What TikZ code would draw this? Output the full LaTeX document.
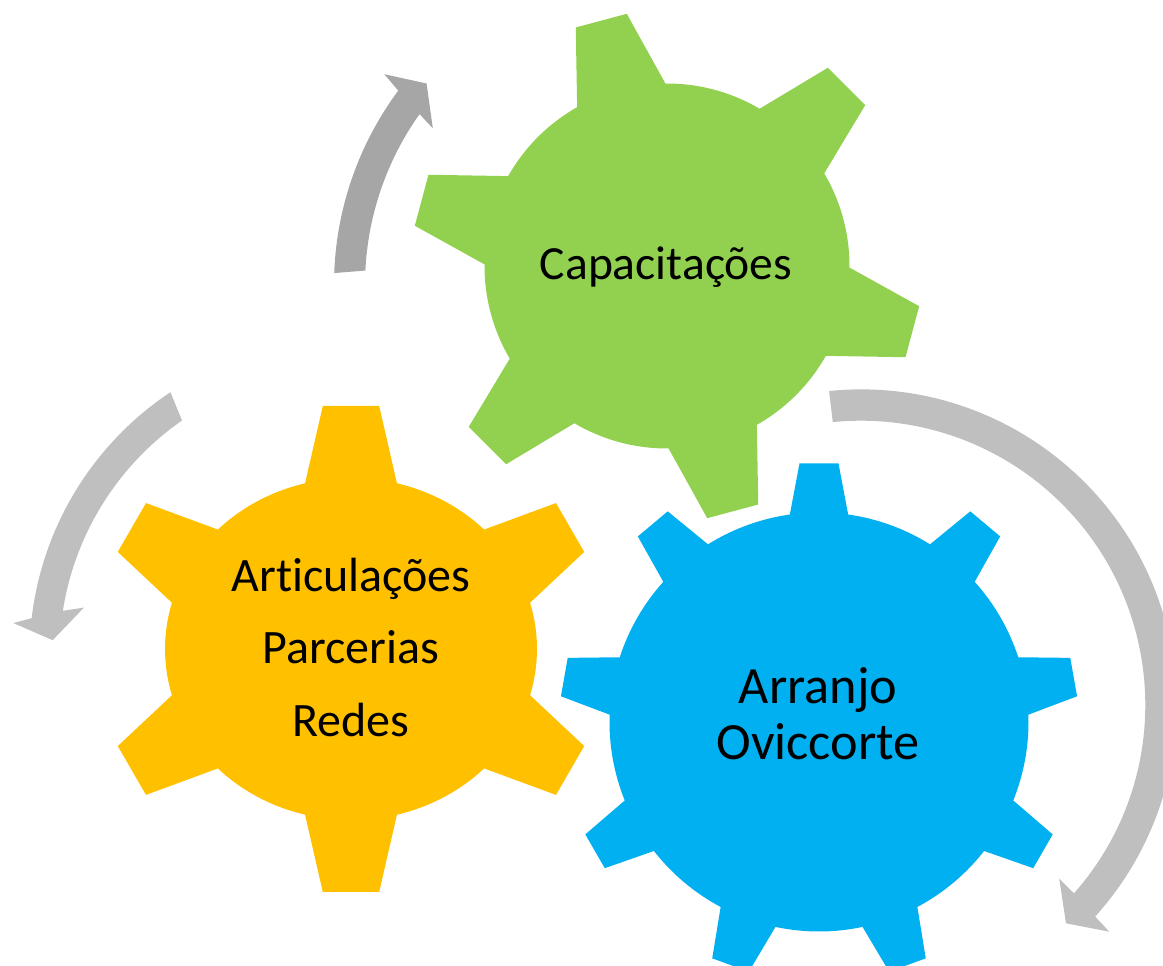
\documentclass[tikz,border=0pt]{standalone}
\usepackage{fontspec}
\setmainfont{Carlito}[Ligatures={NoCommon}]
\usetikzlibrary{calc}
\definecolor{gGreen}{HTML}{92D050}
\definecolor{gOrange}{HTML}{FFC000}
\definecolor{gBlue}{HTML}{00B0F0}
\definecolor{arrDark}{HTML}{A6A6A6}
\definecolor{arrLight}{HTML}{BFBFBF}
% #1 first tooth angle, #2 teeth, #3/#4 body radii, #5/#6 tip radii, #7 tip half width, #8 half angle at base
\newcommand\gearpath[8]{%
  ({#1+#8}:#3 and #4)
  \foreach \i [evaluate=\i as \a using #1-360/#2*(\i-1),
               evaluate=\i as \b using #1-360/#2*(\i-1)-#8,
               evaluate=\i as \c using #1-360/#2*\i+#8] in {1,...,#2}{
    -- ($(\a:#5 and #6)+({\a+90}:#7)$)
    -- ($(\a:#5 and #6)+({\a-90}:#7)$)
    -- (\b:#3 and #4)
    arc[start angle=\b, end angle=\c, x radius=#3, y radius=#4]
  } -- cycle}
\tikzset{
  geartext/.style={anchor=base, inner sep=0pt, text=black},
}
\begin{document}
\begin{tikzpicture}[x=1pt,y=1pt]
\useasboundingbox (0,0) rectangle (1163,966);
\clip (0,0) rectangle (1163,966);
% gears
\begin{scope}[shift={(667,700)}]
  \fill[gGreen] \gearpath{105}{6}{182.5}{182.5}{254}{254}{26.4}{14.5};
\end{scope}
\begin{scope}[shift={(351,317)}]
  \fill[gOrange] \gearpath{90}{6}{186}{171}{253}{243}{28.2}{14.3};
\end{scope}
\begin{scope}[shift={(819,244)}]
  \fill[gBlue] \gearpath{90}{9}{209.5}{209.5}{258.6}{258.6}{19.5}{8};
\end{scope}
% arrows
\begin{scope}[shift={(660,681)}]
  \fill[arrDark] (177.9:326) arc[start angle=177.9, end angle=143.4, radius=326]
    -- (142.6:347) -- (139.2:308.4) -- (145.4:276) -- (144.6:295)
    arc[start angle=144.6, end angle=177.2, radius=295] -- cycle;
\end{scope}
\begin{scope}[shift={(345,311)}]
  \fill[arrLight] (124.8:285.6) arc[start angle=124.8, end angle=171.1, radius=285.6]
    -- (169.7:265.3) -- (177.1:292.7) -- (174.5:333.2) -- (173.3:315.5)
    arc[start angle=173.3, end angle=123.6, radius=315.5] -- cycle;
\end{scope}
\begin{scope}[shift={(861,261)}]
  \fill[arrLight] (95.8:315.6) arc[start angle=95.8, end angle=-42.1, radius=315.6]
    -- (-42.4:336.2) -- (-46.8:299.5) -- (-41.2:263.4) -- (-41.5:284.3)
    arc[start angle=-41.5, end angle=95.7, radius=284.3] -- cycle;
\end{scope}
% texts
\node[geartext, font=\fontsize{47.6}{56}\selectfont] (cap) at (666,686.5) {Capacitações};
\node[geartext, font=\fontsize{48}{56}\selectfont] (art) at (351,374.7) {Articulações};
\node[geartext, font=\fontsize{48}{56}\selectfont] (par) at (351,302.7) {Parcerias};
\node[geartext, font=\fontsize{48}{56}\selectfont] (red) at (351,229) {Redes};
\node[geartext, font=\fontsize{52.3}{60}\selectfont] (arr) at (818,262.5) {Arranjo};
\node[geartext, font=\fontsize{52.3}{60}\selectfont] (ovi) at (818,206.5) {Oviccorte};
\end{tikzpicture}
\end{document}
